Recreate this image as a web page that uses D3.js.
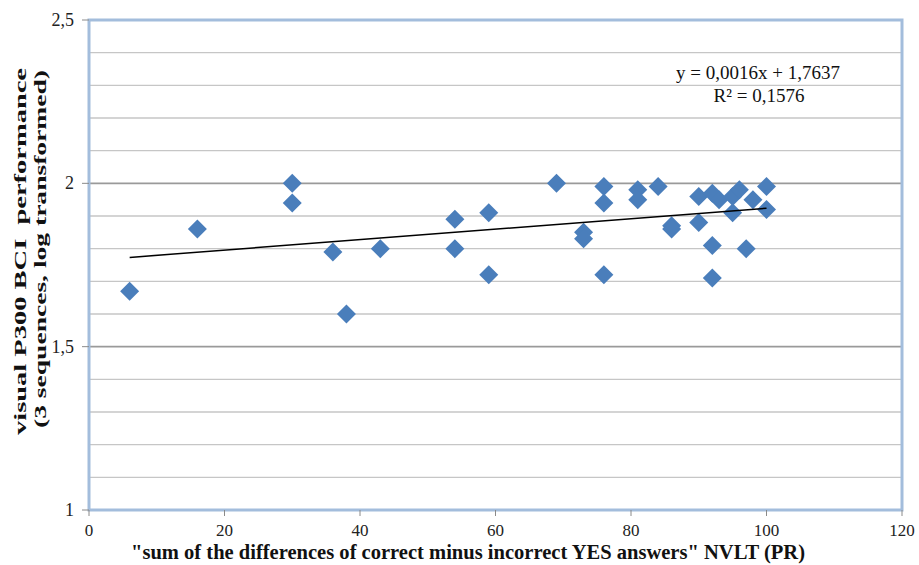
<!DOCTYPE html>
<html><head><meta charset="utf-8">
<script src="https://cdn.jsdelivr.net/npm/d3@7"></script>
<style>body{margin:0;background:#fff}svg{display:block}
text{font-family:'Liberation Serif','DejaVu Serif','Times New Roman',serif;}</style>
</head><body>
<svg id="c" width="919" height="565"></svg>
<script>
const xValues = [6,16,30,30,36,38,43,54,54,59,59,69,73,73,76,76,76,81,81,84,86,86,90,90,92,92,92,93,95,95,96,97,98,100,100];
const yValues = [1.67,1.86,2.00,1.94,1.79,1.60,1.80,1.89,1.80,1.91,1.72,2.00,1.85,1.83,1.99,1.94,1.72,1.98,1.95,1.99,1.87,1.86,1.96,1.88,1.97,1.81,1.71,1.95,1.91,1.96,1.98,1.80,1.95,1.99,1.92];
const xTicks = [0,20,40,60,80,100,120];
const yTicks = [1,1.5,2,2.5];
const yMinor = [1.1,1.2,1.3,1.4,1.6,1.7,1.8,1.9,2.1,2.2,2.3,2.4];
const trendSlope = 0.0016, trendIntercept = 1.7637, rSquared = 0.1576;
const trendRange = [6,100];
const xTitle = '"sum of the differences of correct minus incorrect YES answers" NVLT (PR)';
const yTitle1 = 'visual P300 BCI  performance';
const yTitle2 = '(3 sequences, log transformed)';

const svg = d3.select('#c');
const L=89,R=902,T=20,B=510;
const x = d3.scaleLinear().domain([0,120]).range([L,R]);
const y = d3.scaleLinear().domain([1,2.5]).range([B,T]);
const fmt = v => String(v).replace('.', ',');

// minor gridlines
svg.append('g').selectAll('line').data(yMinor).join('line')
  .attr('x1',L).attr('x2',R).attr('y1',d=>y(d)).attr('y2',d=>y(d))
  .attr('stroke','#c6c6c6').attr('stroke-width',1.4);
// major gridlines
svg.append('g').selectAll('line').data(yTicks.filter(d=>d>1&&d<2.5)).join('line')
  .attr('x1',L).attr('x2',R).attr('y1',d=>y(d)).attr('y2',d=>y(d))
  .attr('stroke','#9a9a9a').attr('stroke-width',1.6);

// frame
svg.append('rect').attr('x',L).attr('y',T).attr('width',R-L).attr('height',B-T)
  .attr('fill','none').attr('stroke','#a3bddc').attr('stroke-width',3);

// ticks
svg.append('g').selectAll('line').data(yTicks).join('line')
  .attr('x1',L-7).attr('x2',L).attr('y1',d=>y(d)).attr('y2',d=>y(d))
  .attr('stroke','#8a8a8a').attr('stroke-width',1);
svg.append('g').selectAll('line').data(xTicks).join('line')
  .attr('x1',d=>x(d)).attr('x2',d=>x(d)).attr('y1',B).attr('y2',B+6)
  .attr('stroke','#8a8a8a').attr('stroke-width',1);

// tick labels
svg.append('g').selectAll('text').data(yTicks).join('text')
  .attr('x',L-15).attr('y',d=>y(d)+6).attr('text-anchor','end')
  .attr('font-size',18).attr('fill','#222').text(fmt);
svg.append('g').selectAll('text').data(xTicks).join('text')
  .attr('x',d=>x(d)).attr('y',536).attr('text-anchor','middle')
  .attr('font-size',17).attr('fill','#222').text(fmt);

// axis titles
svg.append('text').attr('x',131).attr('y',559).attr('textLength',674).attr('lengthAdjust','spacingAndGlyphs')
  .attr('font-size',20).attr('font-weight','bold').attr('fill','#111').text(xTitle);
const yt = svg.append('g').attr('transform','rotate(-90)');
yt.append('text').attr('x',-435).attr('y',26).attr('textLength',367).attr('lengthAdjust','spacingAndGlyphs')
  .attr('font-size',16).attr('font-weight','bold').attr('fill','#111').attr('xml:space','preserve').text(yTitle1);
yt.append('text').attr('x',-428).attr('y',46).attr('textLength',358).attr('lengthAdjust','spacingAndGlyphs')
  .attr('font-size',16).attr('font-weight','bold').attr('fill','#111').text(yTitle2);

// points
const r=9.5;
svg.append('g').selectAll('path').data(xValues.map((v,i)=>[v,yValues[i]])).join('path')
  .attr('transform',d=>`translate(${x(d[0])},${y(d[1])})`)
  .attr('d',`M0,${-r}L${r},0L0,${r}L${-r},0Z`)
  .attr('fill','#4a7ebb');

// trendline
const line = d3.line().x(d=>x(d)).y(d=>y(trendSlope*d+trendIntercept));
svg.append('path').datum(trendRange).attr('d',line)
  .attr('stroke','#000').attr('stroke-width',1.5).attr('fill','none');

// equation
svg.append('text').attr('x',758).attr('y',79).attr('text-anchor','middle')
  .attr('font-size',19).attr('fill','#111')
  .text(`y = ${fmt(trendSlope.toFixed(4))}x + ${fmt(trendIntercept.toFixed(4))}`);
svg.append('text').attr('x',759).attr('y',102).attr('text-anchor','middle')
  .attr('font-size',19).attr('fill','#111')
  .text(`R² = ${fmt(rSquared.toFixed(4))}`);
</script>
</body></html>
